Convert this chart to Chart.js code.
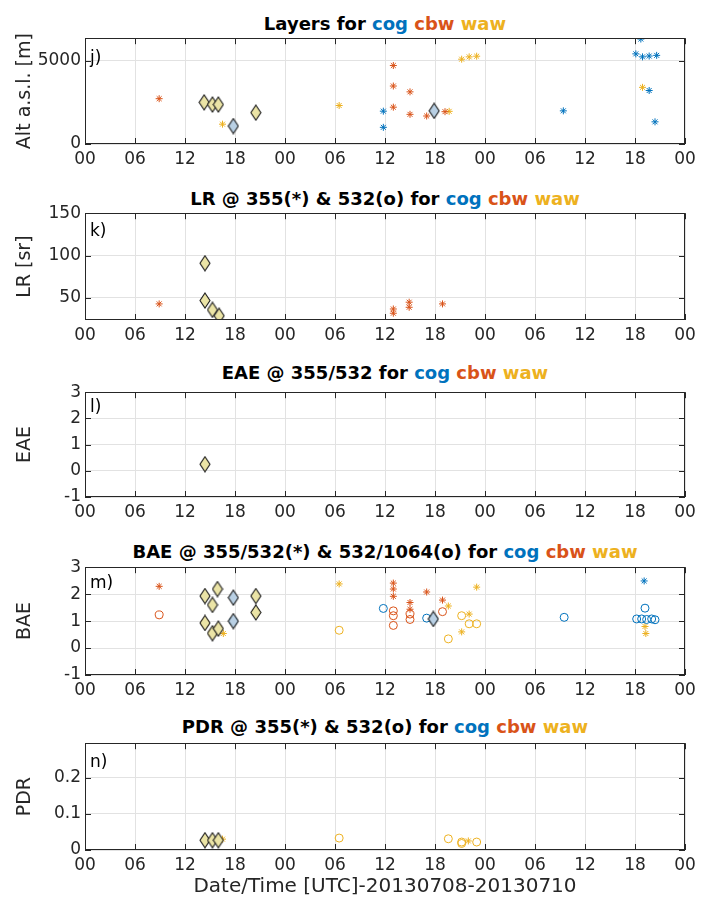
<!DOCTYPE html>
<html>
<head>
<meta charset="utf-8">
<title>Layers, LR, EAE, BAE, PDR - cog cbw waw</title>
<script src="https://cdn.jsdelivr.net/npm/chart.js@4.4.0/dist/chart.umd.min.js"></script>
<style>
    body { margin: 0; background: #fff; }
    #figura { position: relative; width: 701px; height: 906px; font-family: "DejaVu Sans", sans-serif; color: #262626; overflow: hidden; }
    .painel { position: absolute; left: 0; }
    .titulo { position: absolute; left: 85px; width: 600px; text-align: center; font-weight: bold; font-size: 18px; line-height: 20px; color: #000; white-space: nowrap; }
    .letra { position: absolute; left: 90px; font-size: 17px; line-height: 20px; color: #000; }
    .cog { color: #0072BD; }
    .cbw { color: #D95319; }
    .waw { color: #EDB120; }
    #xlabel { position: absolute; left: 85px; width: 600px; top: 874px; text-align: center; font-size: 20px; line-height: 22px; white-space: nowrap; }
</style>
</head>
<body>
<div id="figura">
    <div class="titulo" style="top:14px">Layers for <span class="cog">cog</span> <span class="cbw">cbw</span> <span class="waw">waw</span></div>
    <div class="titulo" style="top:189px">LR @ 355(*) &amp; 532(o) for <span class="cog">cog</span> <span class="cbw">cbw</span> <span class="waw">waw</span></div>
    <div class="titulo" style="top:363px">EAE @ 355/532 for <span class="cog">cog</span> <span class="cbw">cbw</span> <span class="waw">waw</span></div>
    <div class="titulo" style="top:542px">BAE @ 355/532(*) &amp; 532/1064(o) for <span class="cog">cog</span> <span class="cbw">cbw</span> <span class="waw">waw</span></div>
    <div class="titulo" style="top:717px">PDR @ 355(*) &amp; 532(o) for <span class="cog">cog</span> <span class="cbw">cbw</span> <span class="waw">waw</span></div>

    <canvas id="graficoJ" class="painel"></canvas>
    <canvas id="graficoK" class="painel"></canvas>
    <canvas id="graficoL" class="painel"></canvas>
    <canvas id="graficoM" class="painel"></canvas>
    <canvas id="graficoN" class="painel"></canvas>

    <div class="letra" style="top:47px">j)</div>
    <div class="letra" style="top:220px">k)</div>
    <div class="letra" style="top:396px">l)</div>
    <div class="letra" style="top:572px">m)</div>
    <div class="letra" style="top:751px">n)</div>

    <div id="xlabel">Date/Time [UTC]-20130708-20130710</div>
</div>

<script>
// eixo x: horas desde 08/07/2013 00 UTC
const horasTicks = [0, 6, 12, 18, 24, 30, 36, 42, 48, 54, 60, 66, 72];
const rotulosX = ['00', '06', '12', '18', '00', '06', '12', '18', '00', '06', '12', '18', '00'];

// j) camadas - altitude [m]
const altCogHora = [17.8, 35.8, 35.8, 41.9, 57.4, 66.1, 66.7, 66.9, 67.7, 68.6, 67.7, 68.4];
const altCogValor = [1080, 1970, 1000, 1990, 1990, 5410, 6300, 5230, 5280, 5320, 3210, 1330];
const altCbwHora = [8.9, 37.0, 37.0, 37.0, 39.0, 39.0, 41.0, 43.2];
const altCbwValor = [2720, 4710, 3480, 2210, 3130, 1780, 1680, 1940];
const altWawHora = [14.3, 15.3, 16.0, 16.5, 20.5, 30.5, 43.7, 45.2, 46.1, 47.0, 66.9];
const altWawValor = [2500, 2370, 2370, 1190, 1880, 2310, 1960, 5090, 5230, 5270, 3400];
const altDiamWawHora = [14.3, 15.3, 16.0, 20.5];
const altDiamWawValor = [2500, 2370, 2370, 1880];
const altDiamCogHora = [17.8, 41.9];
const altDiamCogValor = [1080, 1990];
const altTicks = [0, 5000];

// k) razao lidar [sr]
const lrCbwHora = [8.9, 37.0, 37.0, 38.9, 38.9, 42.9];
const lrCbwValor = [43, 37, 32, 45, 39, 43];
const lrWawHora = [14.4, 14.4, 15.3, 16.1];
const lrWawValor = [91, 47, 36, 29];
const lrTicks = [50, 100, 150];

// l) EAE
const eaeWawHora = [14.4];
const eaeWawValor = [0.25];
const eaeTicks = [-1, 0, 1, 2, 3];

// m) BAE - estrelas 355/532, circulos 532/1064
const baeCogEstHora = [17.8, 67.1];
const baeCogEstValor = [1.87, 2.49];
const baeCbwEstHora = [8.9, 37.0, 37.0, 37.0, 39.0, 39.0, 41.0, 42.9];
const baeCbwEstValor = [2.29, 2.41, 2.19, 1.92, 1.69, 1.44, 2.08, 1.78];
const baeWawEstHora = [14.4, 15.3, 15.9, 20.5, 16.6, 30.5, 43.6, 46.1, 45.2, 47.0, 67.2, 67.3];
const baeWawEstValor = [1.93, 1.60, 2.19, 1.93, 0.54, 2.38, 1.56, 1.26, 0.60, 2.26, 0.80, 0.54];
const baeCogCircHora = [17.8, 35.8, 41.0, 41.8, 57.5, 66.2, 66.8, 67.4, 68.0, 68.4, 67.2];
const baeCogCircValor = [1.00, 1.47, 1.11, 1.08, 1.14, 1.08, 1.08, 1.06, 1.08, 1.05, 1.48];
const baeCbwCircHora = [8.9, 37.0, 37.0, 37.0, 39.0, 39.0, 42.9];
const baeCbwCircValor = [1.23, 1.38, 1.20, 0.84, 1.26, 1.06, 1.35];
const baeWawCircHora = [14.4, 15.3, 16.0, 20.5, 30.5, 43.6, 45.2, 46.1, 47.0];
const baeWawCircValor = [0.93, 0.55, 0.72, 1.32, 0.66, 0.34, 1.20, 0.90, 0.90];
const baeDiamWawHora = [14.4, 15.3, 15.9, 20.5, 14.4, 15.3, 16.0, 20.5];
const baeDiamWawValor = [1.93, 1.60, 2.19, 1.93, 0.93, 0.55, 0.72, 1.32];
const baeDiamCogHora = [17.8, 17.8, 41.8];
const baeDiamCogValor = [1.87, 1.00, 1.08];
const baeTicks = [-1, 0, 1, 2, 3];

// n) PDR
const pdrWawEstHora = [14.4, 15.3, 16.0, 16.5, 46.0];
const pdrWawEstValor = [0.027, 0.027, 0.027, 0.030, 0.025];
const pdrWawCircHora = [30.5, 43.6, 45.2, 47.0, 45.2];
const pdrWawCircValor = [0.033, 0.031, 0.022, 0.022, 0.018];
const pdrDiamWawHora = [14.4, 15.3, 16.0];
const pdrDiamWawValor = [0.027, 0.027, 0.027];
const pdrTicks = [0, 0.1, 0.2];

const cores = { cog: '#0072BD', cbw: '#D95319', waw: '#EDB120' };
const coresClaras = { cog: '#b9d0e4', waw: '#ebe4a6' };
const fonte = '"DejaVu Sans", sans-serif';

// desenha o losango (marcador 'd' do matlab), mais alto que largo
function criarLosango(preenchimento) {
    var c = document.createElement('canvas');
    c.width = 12;
    c.height = 17;
    var g = c.getContext('2d');
    g.beginPath();
    g.moveTo(6, 1);
    g.lineTo(11, 8.5);
    g.lineTo(6, 16);
    g.lineTo(1, 8.5);
    g.closePath();
    g.fillStyle = preenchimento;
    g.fill();
    g.strokeStyle = '#1a1a1a';
    g.lineWidth = 1.1;
    g.stroke();
    return c;
}

function juntar(horas, valores) {
    let pontos = [];
    for (let i = 0; i < horas.length; i++) {
        pontos.push({ x: horas[i], y: valores[i] });
    }
    return pontos;
}

function serie(tipo, estacao, horas, valores) {
    let ds = { data: juntar(horas, valores), showLine: false, borderWidth: 1 };
    if (tipo == 'estrela') {
        ds.pointStyle = 'star';
        ds.pointRadius = 3.5;
        ds.borderColor = cores[estacao];
        ds.backgroundColor = cores[estacao];
    } else if (tipo == 'circulo') {
        ds.pointStyle = 'circle';
        ds.pointRadius = 4;
        ds.borderColor = cores[estacao];
        ds.backgroundColor = 'rgba(0,0,0,0)';
    } else {
        ds.pointStyle = criarLosango(coresClaras[estacao]);
        ds.pointRadius = 7;
    }
    ds.pointHoverRadius = ds.pointRadius;
    return ds;
}

// caixa do eixo com os ticks para dentro (estilo matlab)
const pluginMoldura = {
    id: 'moldura',
    afterDraw(chart) {
        const ctx = chart.ctx;
        const a = chart.chartArea;
        const sx = chart.scales.x;
        const sy = chart.scales.y;
        ctx.save();
        ctx.strokeStyle = '#262626';
        ctx.lineWidth = 1;
        ctx.beginPath();
        sx.ticks.forEach(function (t) {
            let px = Math.round(sx.getPixelForValue(t.value)) + 0.5;
            ctx.moveTo(px, a.bottom); ctx.lineTo(px, a.bottom - 6);
            ctx.moveTo(px, a.top); ctx.lineTo(px, a.top + 6);
        });
        sy.ticks.forEach(function (t) {
            let py = Math.round(sy.getPixelForValue(t.value)) + 0.5;
            ctx.moveTo(a.left, py); ctx.lineTo(a.left + 6, py);
            ctx.moveTo(a.right, py); ctx.lineTo(a.right - 6, py);
        });
        ctx.stroke();
        ctx.strokeRect(Math.round(a.left) + 0.5, Math.round(a.top) + 0.5,
            Math.round(a.right - a.left) - 1, Math.round(a.bottom - a.top) - 1);
        ctx.restore();
    }
};

function plotarPainel(idCanvas, topo, base, minY, maxY, yTicks, yTitulo, datasets) {
    var canvas = document.getElementById(idCanvas);
    var altura = (base - topo) + 10 + 30;
    canvas.width = 701;
    canvas.height = altura;
    canvas.style.top = (topo - 10) + 'px';

    const config = {
        type: 'scatter',
        data: { datasets: datasets },
        options: {
            responsive: false,
            animation: false,
            events: [],
            layout: { padding: { top: 10, right: 16, left: 0, bottom: 0 } },
            plugins: { legend: { display: false }, tooltip: { enabled: false } },
            scales: {
                x: {
                    type: 'linear', min: 0, max: 72,
                    afterBuildTicks: function (s) { s.ticks = horasTicks.map(v => ({ value: v })); },
                    afterFit: function (s) { s.height = 30; },
                    ticks: {
                        autoSkip: false, maxRotation: 0, padding: 5, color: '#262626',
                        font: { family: fonte, size: 17 },
                        callback: function (v, i) { return rotulosX[i]; }
                    },
                    grid: { color: '#e2e2e2', lineWidth: 1, drawTicks: false },
                    border: { display: false }
                },
                y: {
                    type: 'linear', min: minY, max: maxY,
                    afterBuildTicks: function (s) { s.ticks = yTicks.map(v => ({ value: v })); },
                    afterFit: function (s) { s.width = 85; },
                    ticks: {
                        padding: 4, color: '#262626',
                        font: { family: fonte, size: 17 },
                        callback: function (v) { return String(v); }
                    },
                    grid: { color: '#e2e2e2', lineWidth: 1, drawTicks: false },
                    border: { display: false },
                    title: {
                        display: true, text: yTitulo, color: '#262626',
                        font: { family: fonte, size: 19 },
                        padding: { top: 14, bottom: 0 }
                    }
                }
            }
        },
        plugins: [pluginMoldura]
    };
    return new Chart(canvas.getContext('2d'), config);
}

plotarPainel('graficoJ', 34, 144, 0, 6350, altTicks, 'Alt a.s.l. [m]', [
    serie('losango', 'waw', altDiamWawHora, altDiamWawValor),
    serie('losango', 'cog', altDiamCogHora, altDiamCogValor),
    serie('estrela', 'cog', altCogHora, altCogValor),
    serie('estrela', 'cbw', altCbwHora, altCbwValor),
    serie('estrela', 'waw', altWawHora, altWawValor)
]);

plotarPainel('graficoK', 209, 320, 24, 150, lrTicks, 'LR [sr]', [
    serie('losango', 'waw', lrWawHora, lrWawValor),
    serie('estrela', 'cbw', lrCbwHora, lrCbwValor),
    serie('estrela', 'waw', lrWawHora, lrWawValor)
]);

plotarPainel('graficoL', 388, 497, -1, 3, eaeTicks, 'EAE', [
    serie('losango', 'waw', eaeWawHora, eaeWawValor),
    serie('estrela', 'waw', eaeWawHora, eaeWawValor)
]);

plotarPainel('graficoM', 563, 675, -1, 3, baeTicks, 'BAE', [
    serie('losango', 'waw', baeDiamWawHora, baeDiamWawValor),
    serie('losango', 'cog', baeDiamCogHora, baeDiamCogValor),
    serie('circulo', 'cog', baeCogCircHora, baeCogCircValor),
    serie('circulo', 'cbw', baeCbwCircHora, baeCbwCircValor),
    serie('circulo', 'waw', baeWawCircHora, baeWawCircValor),
    serie('estrela', 'cog', baeCogEstHora, baeCogEstValor),
    serie('estrela', 'cbw', baeCbwEstHora, baeCbwEstValor),
    serie('estrela', 'waw', baeWawEstHora, baeWawEstValor)
]);

plotarPainel('graficoN', 739, 850, 0, 0.295, pdrTicks, 'PDR', [
    serie('losango', 'waw', pdrDiamWawHora, pdrDiamWawValor),
    serie('circulo', 'waw', pdrWawCircHora, pdrWawCircValor),
    serie('estrela', 'waw', pdrWawEstHora, pdrWawEstValor)
]);
</script>
</body>
</html>
